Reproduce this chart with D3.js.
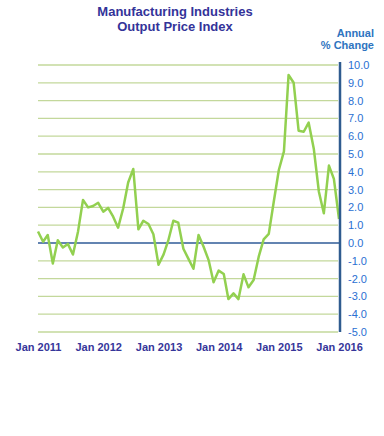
<!DOCTYPE html>
<meta charset="utf-8">
<style>
body { margin: 0; background: #fff; }
.title { font: bold 13px Arial, "Liberation Sans", sans-serif; fill: #333399; }
.unit { font: bold 11px Arial, "Liberation Sans", sans-serif; fill: #2e74c0; }
.yax text { font: 11px Arial, "Liberation Sans", sans-serif; fill: #2a6fd2; }
.xax text { font: bold 11px Arial, "Liberation Sans", sans-serif; fill: #36369a; }
.grid { stroke: #c3d89b; stroke-width: 1.3px; }
.line { fill: none; stroke: #92d050; stroke-width: 2.5px; stroke-linejoin: round; }
</style>
<body>
<script src="https://d3js.org/d3.v7.min.js"></script>
<script>
// monthly annual % change, Jan 2011 .. Jan 2016
var y2011 = [0.65, 0.07, 0.45, -1.15, 0.15, -0.25, -0.05, -0.65, 0.65, 2.42, 2.0, 2.08];
var y2012 = [2.26, 1.76, 1.97, 1.48, 0.86, 1.95, 3.4, 4.16, 0.77, 1.25, 1.07, 0.49];
var y2013 = [-1.22, -0.64, 0.13, 1.25, 1.14, -0.32, -0.88, -1.45, 0.45, -0.2, -0.96, -2.2];
var y2014 = [-1.55, -1.74, -3.15, -2.83, -3.15, -1.76, -2.49, -2.08, -0.77, 0.2, 0.51, 2.3];
var y2015 = [4.1, 5.15, 9.44, 9.0, 6.31, 6.25, 6.76, 5.3, 2.88, 1.67, 4.35, 3.6];
var y2016 = [1.35];

var yTicks = [-5, -4, -3, -2, -1, 0, 1, 2, 3, 4, 5, 6, 7, 8, 9, 10];
var xTickYears = [2011, 2012, 2013, 2014, 2015, 2016];

var values = [].concat(y2011, y2012, y2013, y2014, y2015, y2016);
var data = values.map(function(v, i) {
  return { date: new Date(2011, i, 1), value: v };
});

var W = 384, H = 436;
var pLeft = 38, pRight = 339, pTop = 65, pBottom = 332;

var x = d3.scaleTime()
    .domain([new Date(2011, 0, 1), new Date(2016, 0, 1)])
    .range([pLeft, pRight]);
var y = d3.scaleLinear().domain([-5, 10]).range([pBottom, pTop]);

var svg = d3.select("body").append("svg")
    .attr("width", W)
    .attr("height", H);

// title
svg.append("text").attr("class", "title")
    .attr("x", 175).attr("y", 16).attr("text-anchor", "middle")
    .text("Manufacturing Industries");
svg.append("text").attr("class", "title")
    .attr("x", 175).attr("y", 31).attr("text-anchor", "middle")
    .text("Output Price Index");

// unit label
svg.append("text").attr("class", "unit")
    .attr("x", 374).attr("y", 37).attr("text-anchor", "end")
    .text("Annual");
svg.append("text").attr("class", "unit")
    .attr("x", 374).attr("y", 49).attr("text-anchor", "end")
    .text("% Change");

// gridlines
svg.selectAll(".grid")
    .data(yTicks.filter(function(d) { return d !== 0; }))
  .enter().append("line")
    .attr("class", "grid")
    .attr("x1", pLeft).attr("x2", pRight - 1)
    .attr("y1", function(d) { return y(d); })
    .attr("y2", function(d) { return y(d); });

// zero line
svg.append("line")
    .attr("x1", pLeft).attr("x2", pRight + 1)
    .attr("y1", y(0)).attr("y2", y(0))
    .style("stroke", "#2f5b97").style("stroke-width", 1.3);

// data line
var valueline = d3.line()
    .x(function(d) { return x(d.date); })
    .y(function(d) { return y(d.value); });

svg.append("path")
    .datum(data)
    .attr("class", "line")
    .attr("d", valueline);

// right axis
var yAxis = svg.append("g")
    .attr("class", "yax")
    .attr("transform", "translate(" + (pRight + 1) + ",0)")
    .call(d3.axisRight(y)
      .tickValues(yTicks)
      .tickSize(0)
      .tickPadding(8)
      .tickFormat(function(d) { return d.toFixed(1); }));
yAxis.select(".domain").remove();
svg.append("line")
    .attr("x1", pRight + 1).attr("x2", pRight + 1)
    .attr("y1", pTop - 3).attr("y2", pBottom)
    .style("stroke", "#2f5b8f").style("stroke-width", 2.5);

// bottom labels
var xAxis = svg.append("g")
    .attr("class", "xax")
    .attr("transform", "translate(0," + pBottom + ")")
    .call(d3.axisBottom(x)
      .tickValues(xTickYears.map(function(yr) { return new Date(yr, 0, 1); }))
      .tickSize(0)
      .tickPadding(11)
      .tickFormat(d3.timeFormat("Jan %Y")));
xAxis.select(".domain").remove();
</script>
</body>
